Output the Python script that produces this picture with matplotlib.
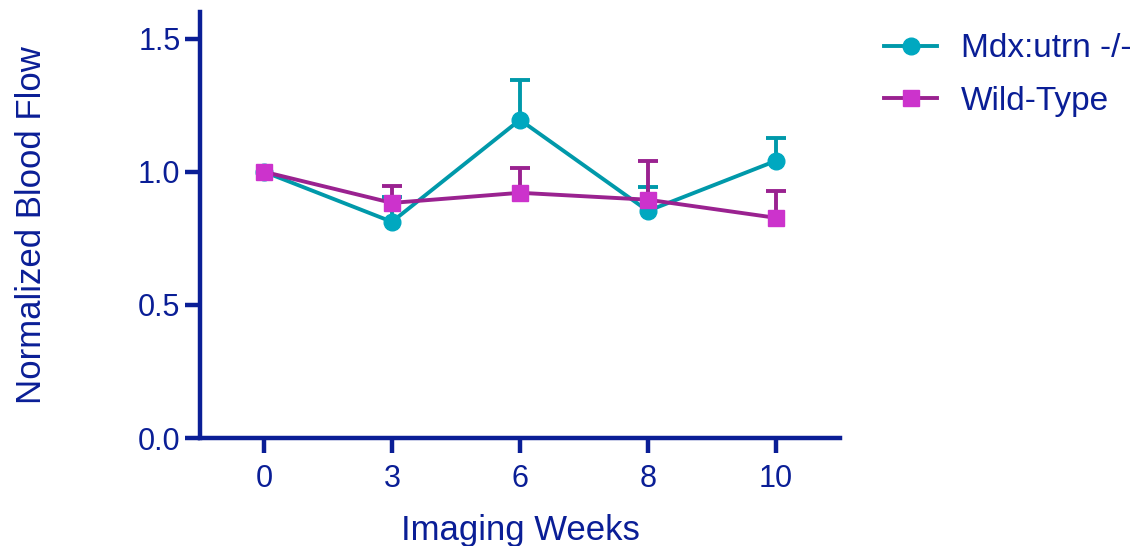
import matplotlib.pyplot as plt
from matplotlib.lines import Line2D
import numpy as np

plt.rcParams['font.family'] = ['Liberation Sans', 'DejaVu Sans']

weeks = ['0', '3', '6', '8', '10']
mdx_mean = [1.0, 0.812, 1.195, 0.853, 1.041]
mdx_err = [0.0, 0.094, 0.151, 0.088, 0.087]
wt_mean = [1.0, 0.883, 0.921, 0.895, 0.827]
wt_err = [0.0, 0.064, 0.094, 0.146, 0.102]

navy = '#0a1e96'
teal_line = '#0099aa'
teal_mk = '#00a8c0'
wt_line = '#9a2290'
wt_mk = '#cc33cc'

fig = plt.figure(figsize=(11.35, 5.46), dpi=100)
ax = fig.add_axes([0.1762, 0.1978, 0.5638, 0.7802])

x = np.arange(len(weeks))
cap = 0.08  # half-width of caps in category units


def series(mean, err, lc, mc, marker, ms, z):
    mean = np.array(mean)
    err = np.array(err)
    top = mean + err
    has = err > 0
    ax.vlines(x[has], mean[has], top[has], color=lc, lw=2.8, zorder=z)
    ax.hlines(top[has], x[has] - cap, x[has] + cap, color=lc, lw=2.8, zorder=z)
    ax.plot(x, mean, color=lc, lw=2.8, marker=marker, ms=ms, mfc=mc, mec=mc, zorder=z + 0.5)


series(mdx_mean, mdx_err, teal_line, teal_mk, 'o', 12, 3)
series(wt_mean, wt_err, wt_line, wt_mk, 's', 12, 4)

ax.set_xlim(-0.5, 4.5)
ax.set_ylim(0, 1.6)
ax.set_xticks(x)
ax.set_xticklabels(weeks)
ax.set_yticks([0, 0.5, 1.0, 1.5])
ax.set_yticklabels(['0.0', '0.5', '1.0', '1.5'])

for s in ['top', 'right']:
    ax.spines[s].set_visible(False)
for s in ['left', 'bottom']:
    ax.spines[s].set_linewidth(3.2)
    ax.spines[s].set_color(navy)
ax.tick_params(colors=navy, width=3.2, length=11, labelsize=22, pad=3)
ax.tick_params(axis='x', pad=8)

ax.set_xlabel('Imaging Weeks', color=navy, fontsize=25, labelpad=14)
ax.set_ylabel('Normalized Blood Flow', color=navy, fontsize=25, labelpad=65)

handles = [
    Line2D([], [], color=teal_line, lw=2.8, marker='o', ms=12, mfc=teal_mk, mec=teal_mk),
    Line2D([], [], color=wt_line, lw=2.8, marker='s', ms=12, mfc=wt_mk, mec=wt_mk),
]
ax.legend(handles, ['Mdx:utrn -/-', 'Wild-Type'], loc='upper left',
          bbox_to_anchor=(1.022, 1.02), frameon=False, fontsize=24, labelcolor=navy,
          handlelength=1.6, handletextpad=0.7, labelspacing=0.65)

fig.savefig('out.png', dpi=100)
